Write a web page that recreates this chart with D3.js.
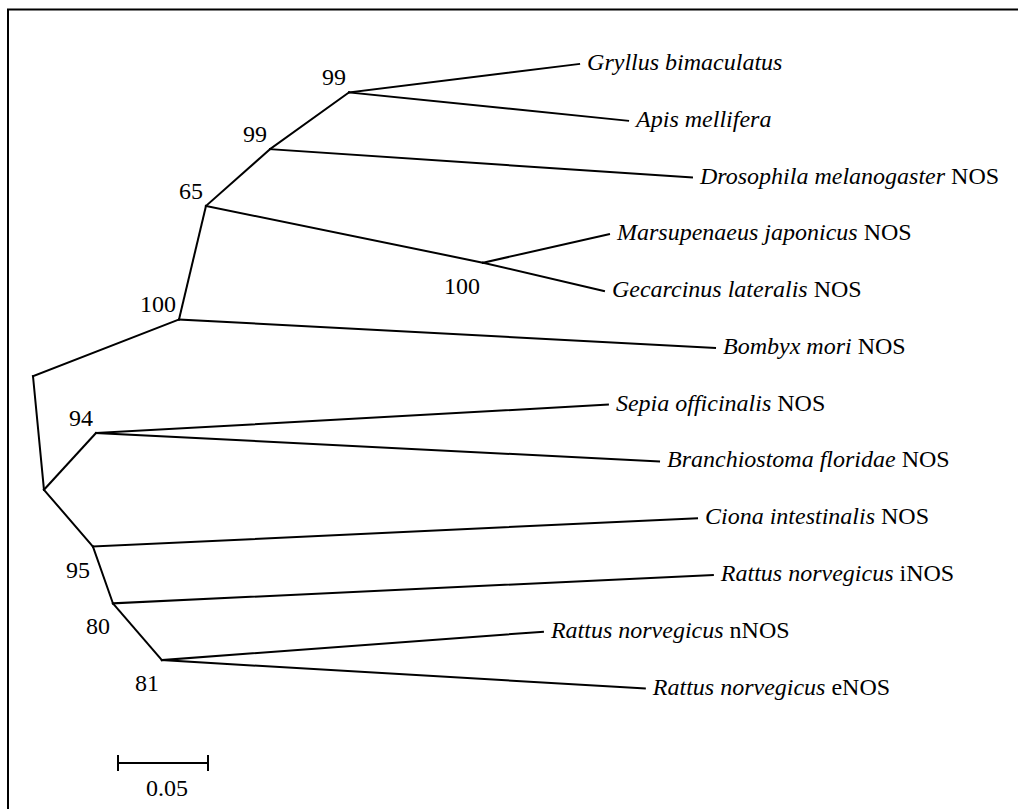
<!DOCTYPE html>
<html>
<head>
<meta charset="utf-8">
<script src="https://cdn.jsdelivr.net/npm/d3@7"></script>
<style>
  body { margin: 0; background: #fff; }
  svg { display: block; }
</style>
</head>
<body>
<script>
const width = 1018;
const height = 809;

// tree topology: child order matters (first = upper child)
const nodeIds = [
  'F', 'E', 'G', 'C', 'Bombyx', 'B', 'D', 'A', 'Drosophila',
  'Gryllus', 'Apis', 'Marsupenaeus', 'Gecarcinus',
  'H', 'I', 'Sepia', 'Branchiostoma', 'Ciona', 'J', 'iNOS', 'K', 'nNOS', 'eNOS'
];
const parentIds = [
  null, 'F', 'F', 'E', 'E', 'C', 'C', 'B', 'B',
  'A', 'A', 'D', 'D',
  'G', 'G', 'H', 'H', 'I', 'I', 'J', 'J', 'K', 'K'
];
const branchLengths = [
  0, 0.0811, 0.0061, 0.0150, 0.2978, 0.0356, 0.1539, 0.0439, 0.2344,
  0.1278, 0.1550, 0.0700, 0.0672,
  0.0289, 0.0272, 0.2844, 0.3128, 0.3356, 0.0111, 0.3333, 0.0272, 0.2117, 0.2683
];

// leaf labels: italic species + plain suffix
const leafIds = ['Gryllus', 'Apis', 'Drosophila', 'Marsupenaeus', 'Gecarcinus', 'Bombyx',
  'Sepia', 'Branchiostoma', 'Ciona', 'iNOS', 'nNOS', 'eNOS'];
const speciesNames = ['Gryllus bimaculatus', 'Apis mellifera', 'Drosophila melanogaster',
  'Marsupenaeus japonicus', 'Gecarcinus lateralis', 'Bombyx mori', 'Sepia officinalis',
  'Branchiostoma floridae', 'Ciona intestinalis', 'Rattus norvegicus',
  'Rattus norvegicus', 'Rattus norvegicus'];
const geneSuffix = ['', '', 'NOS', 'NOS', 'NOS', 'NOS', 'NOS', 'NOS', 'NOS', 'iNOS', 'nNOS', 'eNOS'];

// bootstrap support on internal nodes
const bootNodes = ['A', 'B', 'C', 'D', 'E', 'H', 'I', 'J', 'K'];
const bootValues = [99, 99, 65, 100, 100, 94, 95, 80, 81];

const scaleBarValue = 0.05;
const scaleBarLabel = '0.05';

const rootX = 33;
const font = '"Liberation Serif", "Times New Roman", Times, serif';

const table = nodeIds.map((id, i) => ({ id, parent: parentIds[i], len: branchLengths[i] }));
const root = d3.stratify().id(d => d.id).parentId(d => d.parent)(table);

// in-order traversal: leaves and internal nodes alternate rows
let row = 0;
const inorder = (node) => {
  if (!node.children) { node.row = row++; return; }
  inorder(node.children[0]);
  node.row = row++;
  inorder(node.children[1]);
};
inorder(root);

root.eachBefore(n => { n.dist = n.parent ? n.parent.dist + n.data.len : 0; });

const x = d3.scaleLinear().domain([0, 0.05]).range([rootX, rootX + 90]);
const y = d3.scaleLinear().domain([0, row - 1]).range([64, 688.5]);

const svg = d3.select('body').append('svg')
  .attr('width', width)
  .attr('height', height);

svg.append('rect')
  .attr('x', 0).attr('y', 0)
  .attr('width', width).attr('height', height)
  .attr('fill', '#fff');

// frame (right and bottom edges fall outside the picture)
svg.append('rect')
  .attr('x', 8).attr('y', 9.5)
  .attr('width', width + 20).attr('height', height + 20)
  .attr('fill', 'none')
  .attr('stroke', '#000')
  .attr('stroke-width', 2);

const g = svg.append('g');

g.selectAll('line.branch')
  .data(root.links())
  .join('line')
  .attr('class', 'branch')
  .attr('x1', d => x(d.source.dist))
  .attr('y1', d => y(d.source.row))
  .attr('x2', d => x(d.target.dist))
  .attr('y2', d => y(d.target.row))
  .attr('stroke', '#000')
  .attr('stroke-width', 2)
  .attr('stroke-linecap', 'square');

// leaf labels
const leaves = root.leaves();
const labels = g.selectAll('text.leaf')
  .data(leaves)
  .join('text')
  .attr('class', 'leaf')
  .attr('x', d => x(d.dist) + 8)
  .attr('y', d => y(d.row) + 6)
  .attr('font-family', font)
  .attr('font-size', 24)
  .attr('fill', '#000');

labels.append('tspan')
  .attr('font-style', 'italic')
  .text(d => speciesNames[leafIds.indexOf(d.id)]);

labels.append('tspan')
  .text(d => {
    const s = geneSuffix[leafIds.indexOf(d.id)];
    return s ? '\u00a0' + s : '';
  });

// bootstrap labels: upper child above its node, lower child below
const bootData = bootNodes.map((id, i) => ({
  node: root.find(n => n.id === id),
  value: bootValues[i]
}));

g.selectAll('text.boot')
  .data(bootData)
  .join('text')
  .attr('class', 'boot')
  .attr('x', d => x(d.node.dist) - 3)
  .attr('y', d => {
    const upper = d.node.parent.children[0] === d.node;
    return y(d.node.row) + (upper ? -7 : 31);
  })
  .attr('text-anchor', 'end')
  .attr('font-family', font)
  .attr('font-size', 24)
  .attr('fill', '#000')
  .text(d => d.value);

// scale bar
const barX0 = 118;
const barY = 763;
const barLen = x(scaleBarValue) - x(0);
const bar = svg.append('g').attr('stroke', '#000').attr('stroke-width', 2);
bar.append('line')
  .attr('x1', barX0).attr('x2', barX0 + barLen)
  .attr('y1', barY).attr('y2', barY);
[barX0, barX0 + barLen].forEach(bx => {
  bar.append('line')
    .attr('x1', bx).attr('x2', bx)
    .attr('y1', barY - 8).attr('y2', barY + 8);
});

svg.append('text')
  .attr('x', barX0 + barLen / 2 + 4)
  .attr('y', 796)
  .attr('text-anchor', 'middle')
  .attr('font-family', font)
  .attr('font-size', 24)
  .attr('fill', '#000')
  .text(scaleBarLabel);
</script>
</body>
</html>
